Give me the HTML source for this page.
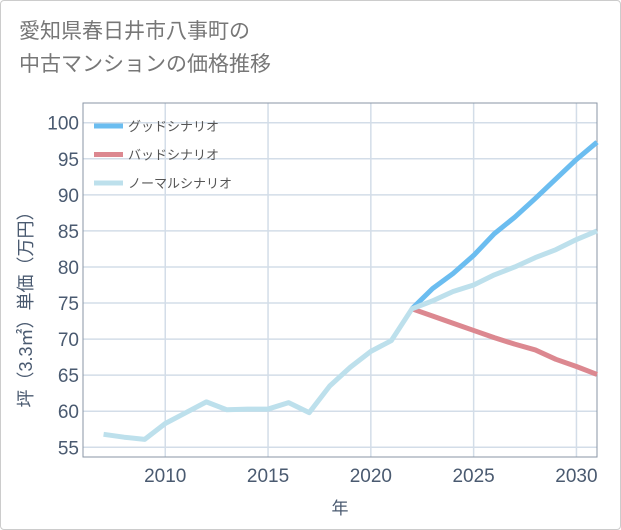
<!DOCTYPE html>
<html><head><meta charset="utf-8"><style>
body{margin:0;background:#fff;}
#wrap{position:relative;width:619px;height:528px;border:1px solid #ccc;border-radius:4px;background:#fff;overflow:hidden;font-family:"Liberation Sans","Noto Sans CJK JP",sans-serif;}
#title{position:absolute;left:18px;top:14px;font-size:21px;line-height:33px;color:#777;}
</style></head><body>
<div id="wrap">
<div id="title">愛知県春日井市八事町の<br>中古マンションの価格推移</div>
<svg id="chart" width="621" height="530" style="position:absolute;left:-1px;top:-1px"></svg>
</div>
<script>
const years=[2007,2008,2009,2010,2011,2012,2013,2014,2015,2016,2017,2018,2019,2020,2021,2022,2023,2024,2025,2026,2027,2028,2029,2030,2031];
const normal=[56.8,56.4,56.1,58.3,59.8,61.3,60.2,60.3,60.3,61.2,59.8,63.5,66.1,68.3,69.8,74.2,75.3,76.6,77.5,78.9,80.0,81.3,82.4,83.8,85.0];
const goodYears=[2022,2023,2024,2025,2026,2027,2028,2029,2030,2031];
const good=[74.2,77.0,79.1,81.6,84.6,86.9,89.5,92.2,94.9,97.3];
const bad=[74.2,73.2,72.2,71.2,70.2,69.3,68.5,67.2,66.2,65.1];
const yTicks=[55,60,65,70,75,80,85,90,95,100];
const xTicks=[2010,2015,2020,2025,2030];
const L=83,R=597,T=103,B=457;
const x=v=>L+(v-2006)/(2031-2006)*(R-L);
const y=v=>447.3-(v-55)/45*(447.3-122.7);
const svg=document.getElementById('chart');
const NS='http://www.w3.org/2000/svg';
function mk(t,a){const e=document.createElementNS(NS,t);for(const k in a)e.setAttribute(k,a[k]);svg.appendChild(e);return e;}
yTicks.forEach(v=>{
 const g=mk('line',{x1:L,x2:R,y1:y(v),y2:y(v),stroke:'#d3dde8','stroke-width':1.5});
 
 
 const t=mk('text',{x:L-4,y:y(v)+7,'text-anchor':'end','font-size':19,fill:'#4a5a70'});
 t.textContent=v;
 
 
});
xTicks.forEach(v=>{
 const g=mk('line',{x1:x(v),x2:x(v),y1:T,y2:B,stroke:'#d3dde8','stroke-width':1.5});
 
 
 const t=mk('text',{x:x(v),y:482,'text-anchor':'middle','font-size':19,fill:'#4a5a70'});
 t.textContent=v;
 
 
});
const fr=mk('rect',{x:L,y:T,width:R-L,height:B-T,fill:'none',stroke:'#8a96a6','stroke-width':1});


function line(xs,vs,c,name){
 const p=mk('polyline',{points:xs.map((yr,i)=>x(yr)+','+y(vs[i])).join(' '),fill:'none',stroke:c,'stroke-width':5,'stroke-linejoin':'round'});
 
 
}
line(goodYears,good,'#6bbdf0','good-scenario-line');
line(goodYears,bad,'#dc8890','bad-scenario-line');
line(years,normal,'#bde0ec','normal-scenario-line');
const leg=[['グッドシナリオ','#6bbdf0'],['バッドシナリオ','#dc8890'],['ノーマルシナリオ','#bde0ec']];
leg.forEach((l,i)=>{
 const yy=126+i*28.5;
 const s=mk('line',{x1:94,x2:123,y1:yy,y2:yy,stroke:l[1],'stroke-width':5});
 
 
 const t=mk('text',{x:128,y:yy+5,'font-size':13,fill:'#555'});
 t.textContent=l[0];
 
 
});
const yl=mk('text',{transform:'translate(32,305) rotate(-90)','text-anchor':'middle','font-size':18,fill:'#4a5a70'});
yl.textContent='坪（3.3㎡）単価（万円）';


const xl=mk('text',{x:340,y:514,'text-anchor':'middle','font-size':17,fill:'#4a5a70'});
xl.textContent='年';


</script>
</body></html>
